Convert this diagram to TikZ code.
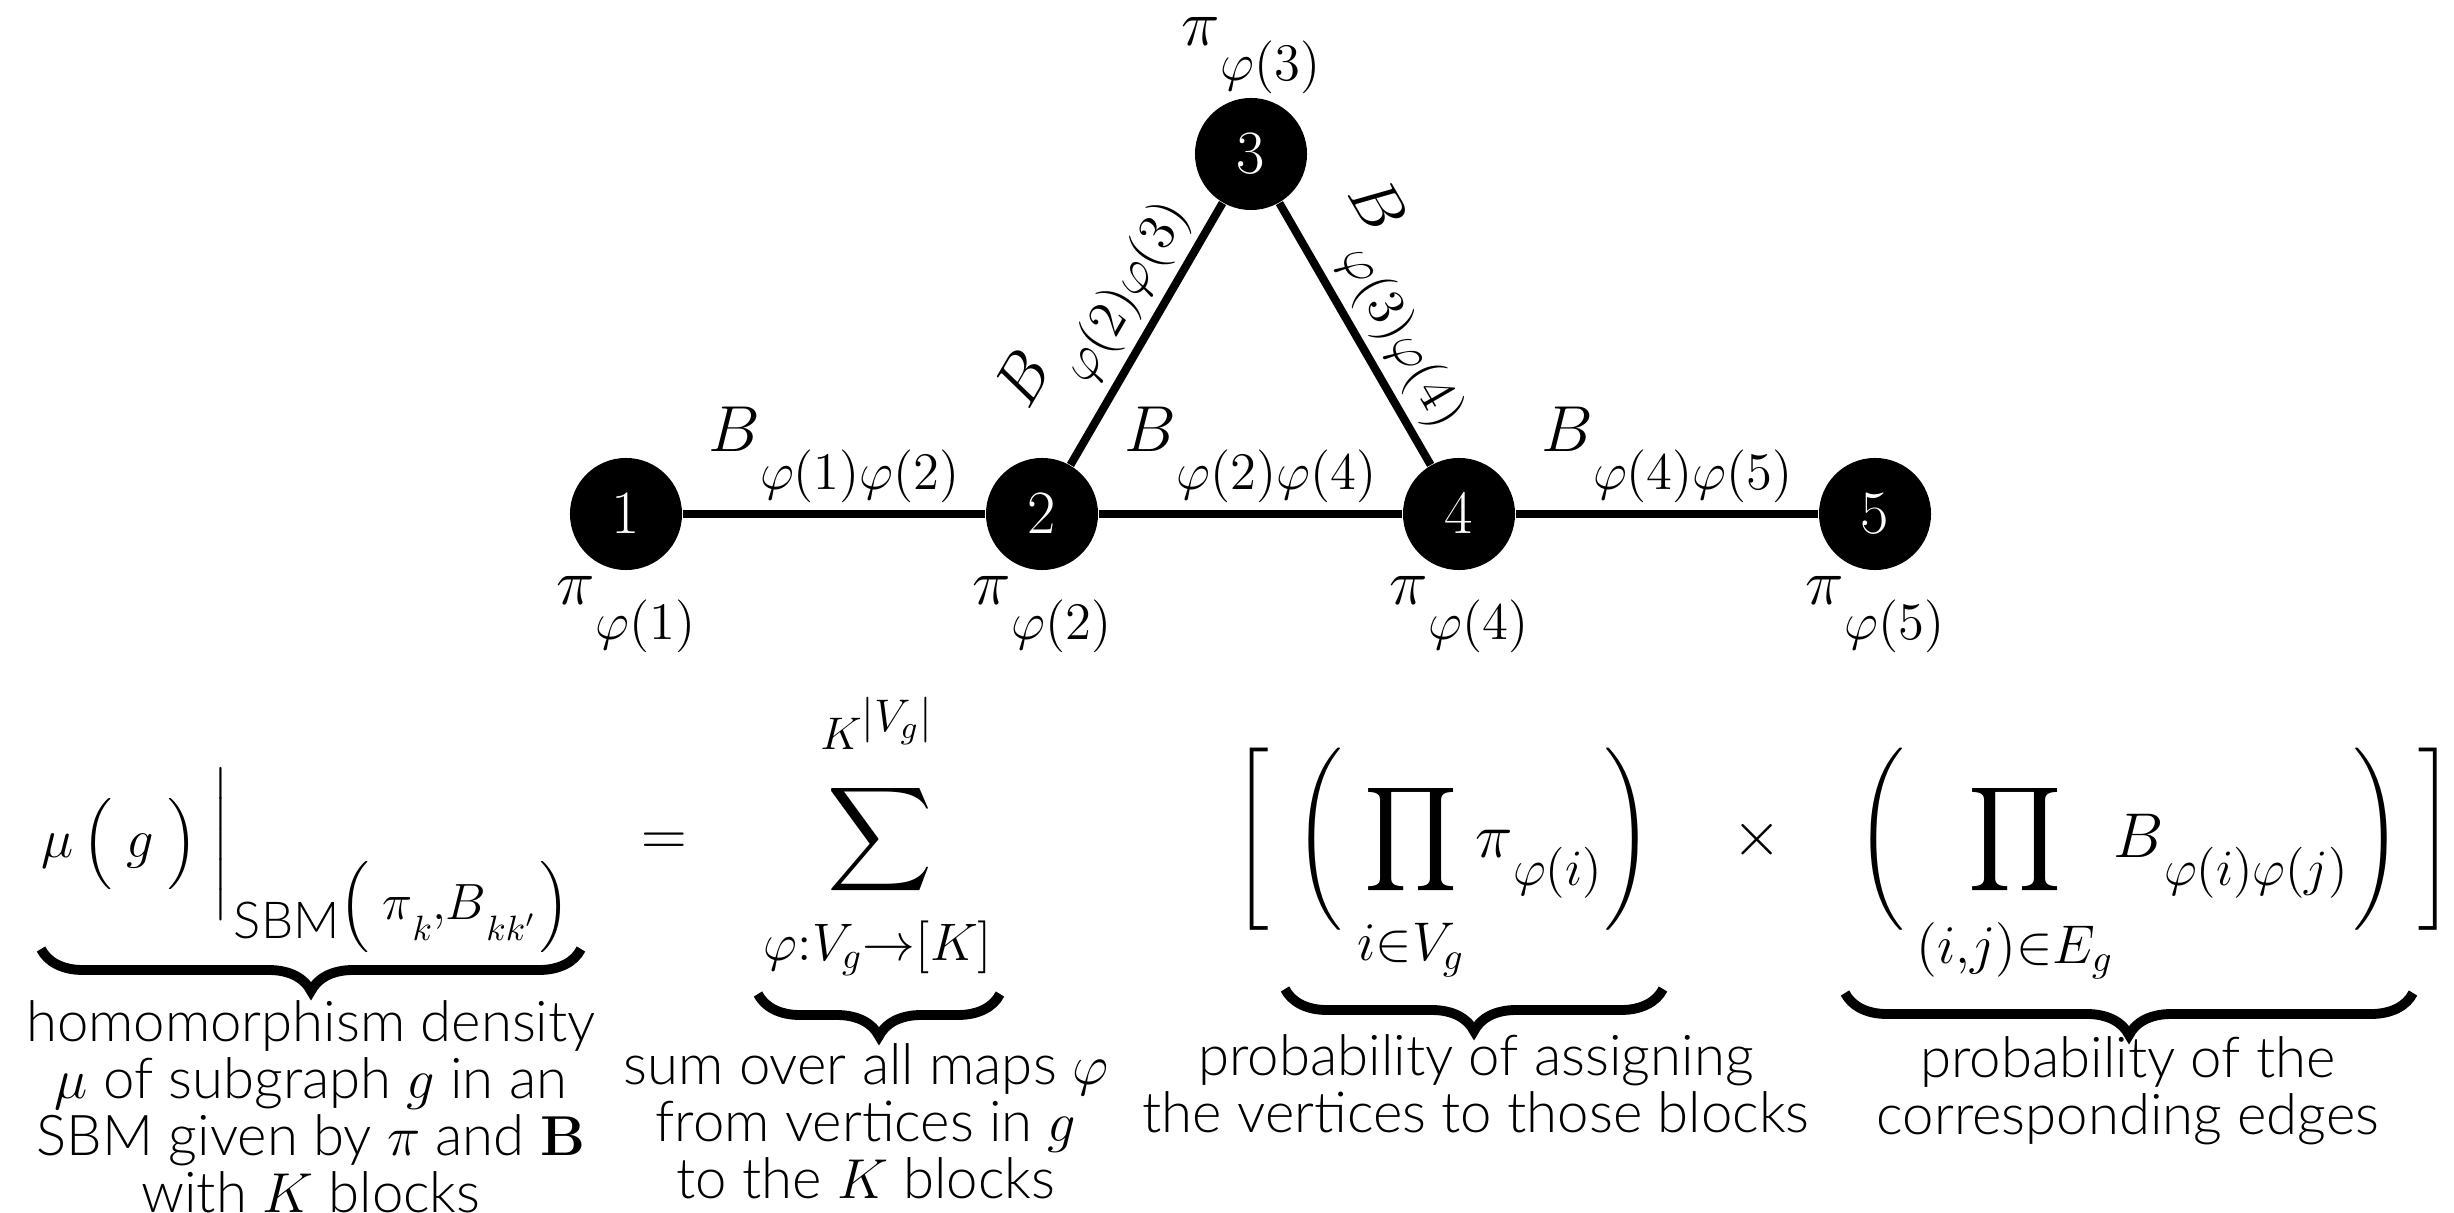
\RequirePackage{fix-cm}
\documentclass[tikz,border=0pt]{standalone}
\usepackage{amsmath}
\usepackage[no-math]{fontspec}
\setmainfont{Lato Light}
\usetikzlibrary{positioning, decorations.pathreplacing}

% base with a lowered subscript: size, drop, base, subscript
\newcommand{\lsub}[4]{#3\raisebox{-#2}{\fontsize{#1}{#1}\selectfont$#4$}}
% delimiters of a given height
\newcommand{\ldel}[2]{\mathopen{\nulldelimiterspace=0pt\left#1\vcenter{\hbox{\vrule height #2 width 0pt}}\right.}}
\newcommand{\rdel}[2]{\mathclose{\nulldelimiterspace=0pt\left.\vcenter{\hbox{\vrule height #2 width 0pt}}\right#1}}

\begin{document}
\begin{tikzpicture}[
    x=0.01cm, y=-0.01cm,
    vertex/.style={circle, fill=black, text=white, minimum size=1.12cm, inner sep=0pt, font=\fontsize{17.5}{21}\selectfont},
    edge/.style={line width=2.3pt},
    elabel/.style={inner sep=2pt, font=\fontsize{18.5}{22}\selectfont},
    plabel/.style={inner sep=0pt, font=\fontsize{18.5}{22}\selectfont},
    term/.style={inner sep=0pt, font=\fontsize{18}{21.6}\selectfont},
    bigop/.style={inner sep=0pt, font=\fontsize{22}{26.4}\selectfont},
    limit/.style={inner sep=0pt, font=\fontsize{15.5}{18.6}\selectfont},
    ubrace/.style={decorate, decoration={brace, mirror, amplitude=0.42cm}, line width=2.8pt},
    note/.style={inner sep=0pt, align=center, anchor=north, font=\fontsize{16}{16.2}\selectfont},
]
\useasboundingbox (0,0) rectangle (2454,1213);

% Graph g
\node[vertex] (v1) at (626,514) {$1$};
\node[vertex] (v2) at (1042,514) {$2$};
\node[vertex] (v3) at (1251,154) {$3$};
\node[vertex] (v4) at (1459,514) {$4$};
\node[vertex] (v5) at (1875,514) {$5$};

\draw[edge] (v1) -- node[elabel, above] (b12) {$\lsub{15}{11pt}{B}{\varphi(1)\varphi(2)}$} (v2);
\draw[edge] (v2) -- node[elabel, above, sloped] (b23) {$\lsub{15}{11pt}{B}{\varphi(2)\varphi(3)}$} (v3);
\draw[edge] (v3) -- node[elabel, above, sloped] (b34) {$\lsub{15}{11pt}{B}{\varphi(3)\varphi(4)}$} (v4);
\draw[edge] (v2) -- node[elabel, above] (b24) {$\lsub{15}{11pt}{B}{\varphi(2)\varphi(4)}$} (v4);
\draw[edge] (v4) -- node[elabel, above] (b45) {$\lsub{15}{11pt}{B}{\varphi(4)\varphi(5)}$} (v5);

\node[plabel, below=0.05cm of v1] (p1) {$\lsub{15}{10pt}{\pi}{\varphi(1)}$};
\node[plabel, below=0.05cm of v2] (p2) {$\lsub{15}{10pt}{\pi}{\varphi(2)}$};
\node[plabel, above=0.03cm of v3] (p3) {$\lsub{15}{10pt}{\pi}{\varphi(3)}$};
\node[plabel, below=0.05cm of v4] (p4) {$\lsub{15}{10pt}{\pi}{\varphi(4)}$};
\node[plabel, below=0.05cm of v5] (p5) {$\lsub{15}{10pt}{\pi}{\varphi(5)}$};

% Formula
\node[term, font=\fontsize{15.5}{18.6}\selectfont, anchor=base west] (lhs) at (41,858)
    {$\mu\,\ldel{(}{26pt}\,g\,\rdel{)}{26pt}\;\ldel{|}{40pt}$\raisebox{-23pt}{\fontsize{14.5}{17.4}\selectfont SBM\raisebox{5.5pt}{$\ldel{(}{24pt}\,\lsub{10}{6pt}{\pi}{k}{,}\lsub{10}{6pt}{B}{kk'}\rdel{)}{24pt}$}}};
\node[term, anchor=base] (eq) at (664,856) {$=$};
\node[bigop] (sum) at (880,840) {$\displaystyle\sum$};
\node[limit, font=\fontsize{13}{15.6}\selectfont] (sumtop) at (877,723) {$K^{\textstyle|V_g|}$};
\node[limit, font=\fontsize{15}{18}\selectfont] (sumbot) at (878,948) {$\varphi{:}V_g{\to}[K]$};

\node[term] (lbrack) at (1253,839) {$\ldel{[}{52pt}$};
\node[term] (lparA) at (1321,839) {$\ldel{(}{52pt}$};
\node[bigop] (prodA) at (1411,840) {$\displaystyle\prod$};
\node[limit] (prodAlim) at (1411,950) {$i{\in}V_g$};
\node[term, anchor=base west] (piA) at (1475,857) {$\lsub{14.5}{8pt}{\pi}{\varphi(i)}$};
\node[term] (rparA) at (1626,839) {$\rdel{)}{52pt}$};
\node[term, anchor=base] (times) at (1757,856) {$\times$};
\node[term] (lparB) at (1883,839) {$\ldel{(}{52pt}$};
\node[bigop] (prodB) at (2015,840) {$\displaystyle\prod$};
\node[limit] (prodBlim) at (2015,951) {$(i{,}j){\in}E_g$};
\node[term, anchor=base west] (bB) at (2113,857) {$\lsub{14.5}{8pt}{B}{\varphi(i)\varphi(j)}$};
\node[term] (rparB) at (2375,839) {$\rdel{)}{52pt}$};
\node[term] (rbrack) at (2434,839) {$\rdel{]}{52pt}$};

% Braces and what they mean
\draw[ubrace] (41,949) -- (581,949);
\draw[ubrace] (758,994) -- (1000,994);
\draw[ubrace] (1285,989) -- (1663,989);
\draw[ubrace] (1845,993) -- (2413,993);

\node[note] (t1) at (311,1000) {homomorphism density\\$\mu$ of subgraph $g$ in an\\SBM given by $\pi$ and $\mathbf{B}$\\with $K$ blocks};
\node[note] (t2) at (866,1043) {sum over all maps $\varphi$\\from vertices in $g$\\to the $K$ blocks};
\node[note] (t3) at (1476,1034) {probability of assigning\\the vertices to those blocks};
\node[note] (t4) at (2128,1036) {probability of the\\corresponding edges};

\end{tikzpicture}
\end{document}
